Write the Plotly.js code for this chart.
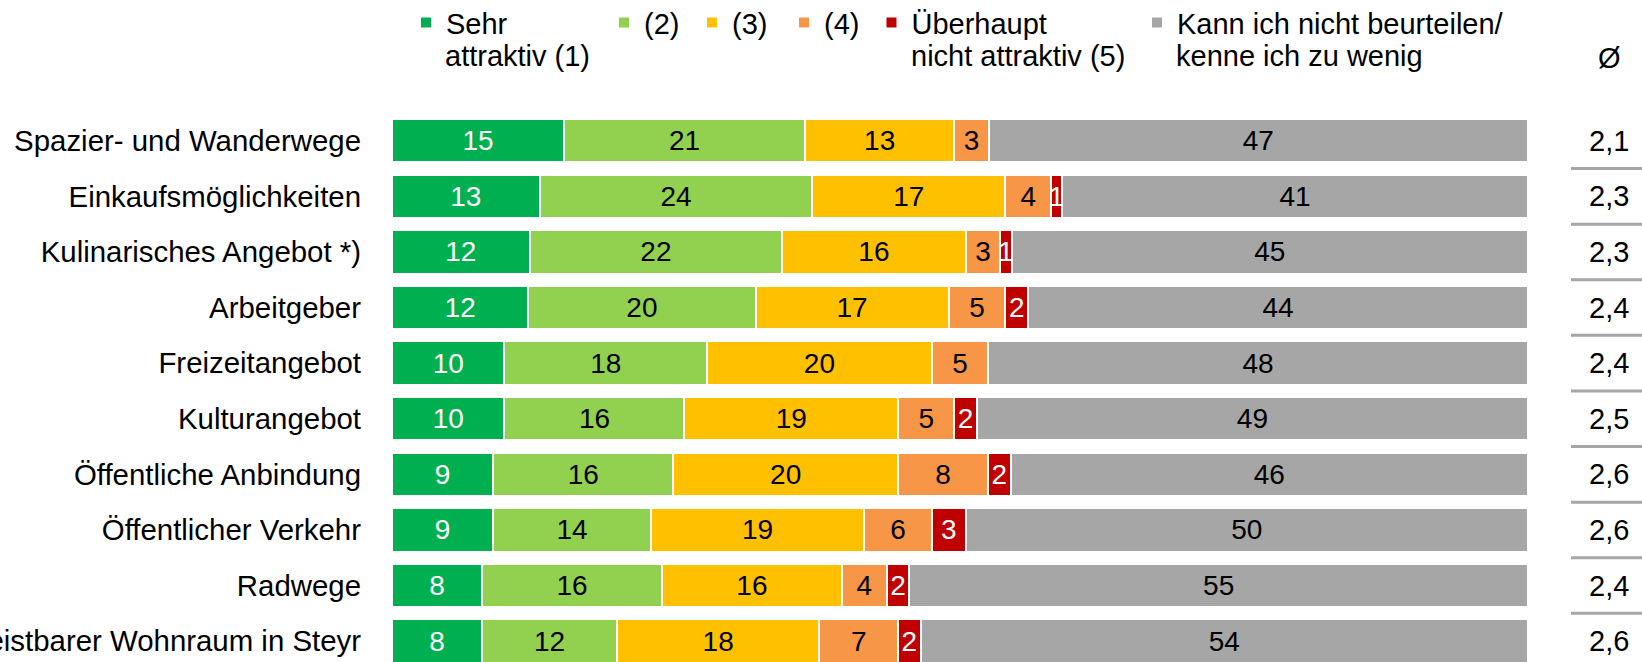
<!DOCTYPE html>
<html>
<head>
<meta charset="utf-8">
<script src="https://cdn.plot.ly/plotly-3.0.1.min.js"></script>
<style>
  html, body { margin: 0; padding: 0; background: #ffffff; }
  #chart { width: 1642px; height: 662px; }
</style>
</head>
<body>
<div id="chart"></div>
<script>
// ---- data ----
const categories = [
  "Spazier- und Wanderwege",
  "Einkaufsmöglichkeiten",
  "Kulinarisches Angebot *)",
  "Arbeitgeber",
  "Freizeitangebot",
  "Kulturangebot",
  "Öffentliche Anbindung",
  "Öffentlicher Verkehr",
  "Radwege",
  "Leistbarer Wohnraum in Steyr"
];
// legend labels: first line / second line
const seriesLine1 = ["Sehr", "(2)", "(3)", "(4)", "Überhaupt", "Kann ich nicht beurteilen/"];
const seriesLine2 = ["attraktiv (1)", "", "", "", "nicht attraktiv (5)", "kenne ich zu wenig"];
const s1 = [15, 13, 12, 12, 10, 10, 9, 9, 8, 8];
const s2 = [21, 24, 22, 20, 18, 16, 16, 14, 16, 12];
const s3 = [13, 17, 16, 17, 20, 19, 20, 19, 16, 18];
const s4 = [3, 4, 3, 5, 5, 5, 8, 6, 4, 7];
const s5 = [0, 1, 1, 2, 0, 2, 2, 3, 2, 2];
const s6 = [47, 41, 45, 44, 48, 49, 46, 50, 55, 54];
const averages = [2.1, 2.3, 2.3, 2.4, 2.4, 2.5, 2.6, 2.6, 2.4, 2.6];
const avgHeader = "Ø";

// ---- styling ----
const colors = ["#00B050", "#92D050", "#FFC000", "#F79646", "#C00000", "#A6A6A6"];
const textColors = ["#FFFFFF", "#000000", "#000000", "#000000", "#FFFFFF", "#000000"];
const FONT = "'Liberation Sans', Arial, Helvetica, sans-serif";
const W = 1642, H = 662;
const plotL = 392, plotR = 1528, plotT = 112.9;
const plotH = H - plotT;
const rowPx = 55.6;
const legendTextX = [446, 644, 732, 824, 911.5, 1177];
const legendTopPx = -3;
const line2CenterPx = 55.5;

const allSeries = [s1, s2, s3, s4, s5, s6];
const legendIds = ["legend", "legend2", "legend3", "legend4", "legend5", "legend6"];

const traces = allSeries.map((vals, i) => ({
  type: "bar",
  orientation: "h",
  name: seriesLine1[i],
  y: categories,
  x: vals,
  text: vals.map(v => (v > 0 ? String(v) : "")),
  textposition: "inside",
  insidetextanchor: "middle",
  textangle: 0,
  constraintext: "none",
  textfont: { family: FONT, size: 28, color: textColors[i] },
  marker: { color: colors[i], line: { color: "#FFFFFF", width: 2 } },
  hoverinfo: "skip",
  legend: legendIds[i],
  cliponaxis: true
}));

const toPaperX = px => (px - plotL) / (plotR - plotL);
const toPaperY = py => (H - py) / plotH;

const layout = {
  width: W,
  height: H,
  margin: { l: plotL, r: W - plotR, t: plotT, b: 0, pad: 0, autoexpand: false },
  paper_bgcolor: "#FFFFFF",
  plot_bgcolor: "#FFFFFF",
  barmode: "stack",
  barnorm: "percent",
  bargap: 0.22,
  showlegend: true,
  font: { family: FONT, size: 29, color: "#000000" },
  uniformtext: { mode: "show", minsize: 28 },
  xaxis: {
    range: [0, 100],
    showticklabels: false,
    showgrid: false,
    zeroline: false,
    showline: false,
    fixedrange: true
  },
  yaxis: {
    type: "category",
    range: [-0.5 + plotH / rowPx, -0.5],
    showgrid: false,
    zeroline: false,
    showline: false,
    ticks: "",
    ticklabelstandoff: 30,
    tickfont: { family: FONT, size: 29.4, color: "#000000" },
    fixedrange: true
  },
  annotations: [],
  shapes: []
};

// legends, one per series
legendIds.forEach((id, i) => {
  layout[id] = {
    xref: "paper",
    yref: "paper",
    x: toPaperX(legendTextX[i] - 40),
    xanchor: "left",
    y: toPaperY(legendTopPx),
    yanchor: "top",
    orientation: "h",
    valign: "top",
    bgcolor: "rgba(0,0,0,0)",
    borderwidth: 0,
    itemwidth: 30,
    font: { family: FONT, size: 29, color: "#000000" }
  };
  if (seriesLine2[i]) {
    layout.annotations.push({
      xref: "paper", yref: "paper",
      x: toPaperX(legendTextX[i] - 3), y: toPaperY(line2CenterPx),
      text: seriesLine2[i],
      showarrow: false,
      xanchor: "left", yanchor: "middle",
      font: { family: FONT, size: 29, color: "#000000" }
    });
  }
});

// average column
const avgX = 1609;
categories.forEach((c, i) => {
  layout.annotations.push({
    xref: "paper", yref: "y",
    x: toPaperX(avgX), y: c,
    text: averages[i].toFixed(1).replace(".", ","),
    showarrow: false,
    xanchor: "center", yanchor: "middle",
    font: { family: FONT, size: 29, color: "#000000" }
  });
  if (i < categories.length - 1) {
    layout.shapes.push({
      type: "line",
      xref: "paper", yref: "y",
      x0: toPaperX(1571), x1: toPaperX(1645),
      y0: i + 0.5, y1: i + 0.5,
      line: { color: "#A6A6A6", width: 3 }
    });
  }
});
layout.annotations.push({
  xref: "paper", yref: "paper",
  x: toPaperX(avgX), y: toPaperY(58),
  text: avgHeader,
  showarrow: false,
  xanchor: "center", yanchor: "middle",
  font: { family: FONT, size: 29, color: "#000000" }
});

Plotly.newPlot("chart", traces, layout, { displayModeBar: false, staticPlot: true });
</script>
</body>
</html>
